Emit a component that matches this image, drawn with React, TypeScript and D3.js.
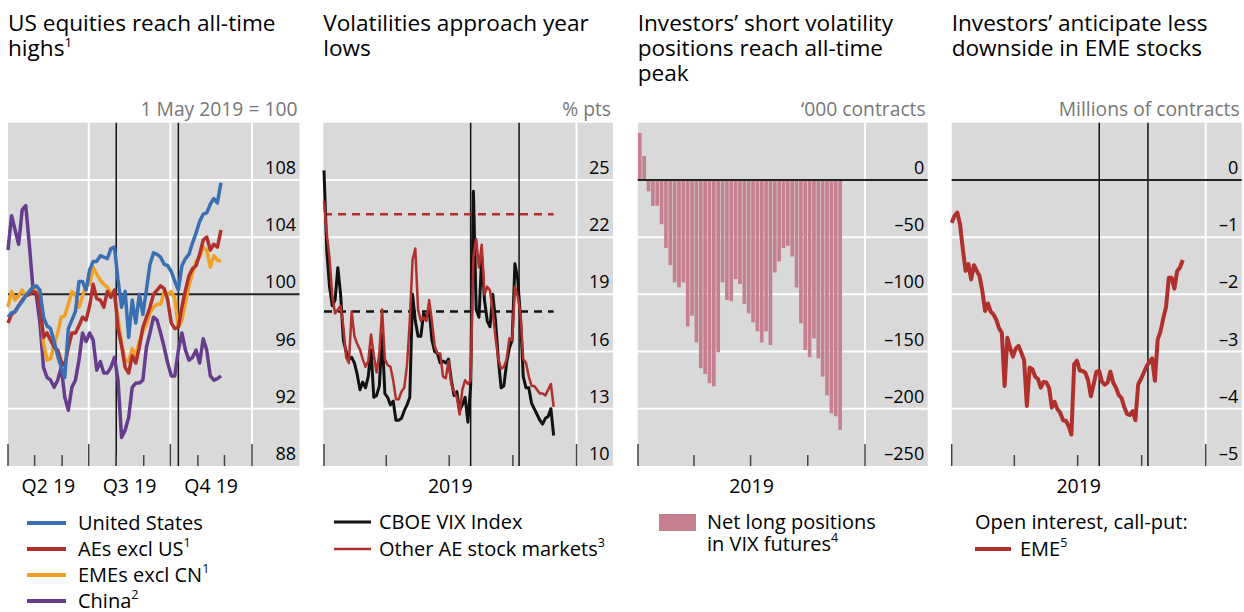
import React from "react";
import * as d3 from "d3";

const FONT = "'Open Sans', 'Noto Sans', sans-serif";
const TOP = 122.7;
const BOTTOM = 466;
const BG = "#d9d9d9";

// ---------- shared ----------
const eventDates = ["2019-08-01", "2019-10-10"];
const quarterLabels = ["Q2 19", "Q3 19", "Q4 19"];
const yearLabels = ["2019"];

// ---------- panel 1: equities (every 4 days from 1 Apr 2019) ----------
const eqStart = "2019-04-01";
const eqStepDays = 4;
const eqUS = [
  98.4, 98.7, 98.8, 99.2, 99.5, 99.9, 100.2, 100.5, 100.6, 100.3,
  98.4, 97.8, 97.6, 96.7, 95.7, 94.9, 94.2, 97.6, 98.2, 98.8,
  100.9, 100.9, 100.3, 101.7, 102.3, 102.3, 102.7, 102.6, 102.5, 103.2,
  103.3, 101.0, 99.1, 100.2, 97.0, 99.6, 98.0, 100.0, 98.6, 100.3,
  102.1, 102.9, 102.8, 102.6, 102.1, 102.0, 101.6, 100.9, 100.3, 102.0,
  102.5, 102.8, 103.6, 104.3, 105.1, 105.6, 105.7, 106.3, 106.7, 106.4,
  107.8,
];
const eqAE = [
  98.0, 98.6, 98.8, 99.2, 99.6, 99.9, 100.0, 100.2, 100.1, 99.2,
  97.0, 97.3, 96.8, 96.3, 96.1, 95.3, 95.0, 96.3, 97.3, 97.3,
  97.8, 98.4, 98.2, 99.2, 100.7, 99.7, 99.6, 99.1, 100.2, 99.8,
  100.3, 97.6, 96.4, 94.9, 94.5, 95.7, 95.2, 96.3, 97.7, 98.4,
  99.1, 100.0, 100.3, 100.6, 100.4, 99.6, 98.0, 97.6, 97.7, 99.1,
  100.3, 101.3, 101.8, 102.0, 102.8, 103.8, 104.0, 103.1, 103.5, 103.3,
  104.5,
];
const eqEM = [
  99.1, 100.2, 99.6, 99.9, 100.3, 99.9, 100.2, 100.3, 100.2, 99.6,
  96.6, 95.4, 95.5, 96.5, 97.3, 98.4, 98.5, 99.3, 100.2, 100.0,
  99.1, 99.9, 100.6, 100.7, 101.9, 101.4, 101.0, 100.7, 100.5, 100.1,
  99.9, 98.3, 96.6, 95.4, 95.3, 96.2, 95.7, 96.7, 97.4, 97.9,
  98.7, 99.1, 99.3, 99.3, 100.2, 100.0, 100.2, 99.7, 97.7, 98.2,
  99.4, 100.6, 101.5, 102.3, 102.6, 103.3, 103.1, 101.9, 102.7, 102.4,
  102.3,
];
const eqCN = [
  103.1, 105.5, 104.5, 103.5, 105.9, 106.2, 103.5, 100.5, 99.9, 98.0,
  94.9, 94.2, 94.0, 93.5, 94.0, 94.9, 92.8, 91.9, 93.5, 94.0,
  95.4, 97.3, 96.7, 97.3, 96.8, 94.7, 95.3, 94.5, 94.5, 94.9,
  95.6, 94.0, 90.0, 90.5, 91.4, 93.5, 93.8, 93.8, 94.0, 96.3,
  97.3, 98.4, 98.2, 97.3, 96.3, 95.2, 94.3, 94.3, 96.1, 97.3,
  96.1, 95.4, 95.6, 96.1, 95.2, 96.9, 96.1, 94.3, 94.0, 94.1,
  94.3,
];
const eqTicks = [88, 92, 96, 100, 104, 108, 112];

// ---------- panel 2: volatilities (every 4 days from 1 Jan 2019) ----------
const volStart = "2019-01-01";
const volStepDays = 4;
const vix = [
  25.5, 21.3, 19.4, 18.4, 18.7, 20.4, 19.0, 16.6, 16.0, 15.6,
  15.7, 15.4, 14.8, 14.0, 14.4, 14.1, 14.7, 16.1, 13.6, 13.7,
  14.2, 16.9, 13.8, 13.6, 13.2, 13.4, 12.4, 12.4, 12.5, 12.9,
  13.2, 13.6, 19.0, 17.6, 16.8, 16.8, 18.0, 17.8, 18.2, 16.6,
  16.0, 15.9, 15.4, 15.5, 15.4, 15.6, 14.5, 13.7, 13.9, 12.9,
  13.2, 13.6, 12.3, 14.2, 24.4, 18.2, 17.8, 21.0, 18.7, 17.6,
  17.3, 19.0, 17.6, 15.6, 14.1, 14.2, 15.4, 16.2, 16.6, 20.6,
  19.8, 17.8, 14.7, 14.1, 14.1, 13.3, 13.0, 12.7, 12.4, 12.2,
  12.5, 12.6, 13.0, 11.6,
];
const otherAE = [
  23.9, 22.2, 20.9, 18.9, 18.0, 18.2, 18.4, 17.3, 15.7, 15.4,
  18.1, 16.8, 16.4, 16.1, 15.6, 15.2, 15.5, 16.9, 15.8, 14.9,
  15.9, 18.2, 15.6, 15.3, 15.2, 14.5, 13.5, 13.5, 13.9, 14.1,
  15.3, 17.6, 20.8, 21.4, 18.2, 17.6, 17.8, 17.6, 18.7, 17.6,
  16.3, 15.9, 15.9, 14.7, 14.6, 15.5, 14.3, 13.9, 13.6, 12.7,
  14.0, 14.5, 14.3, 14.5, 21.0, 21.9, 20.4, 21.6, 19.0, 19.4,
  19.2, 18.1, 16.7, 15.6, 15.1, 15.2, 15.6, 16.7, 16.6, 19.4,
  18.9, 18.0, 15.6, 15.4, 14.7, 14.2, 14.2, 14.0, 13.8, 13.8,
  13.7, 14.0, 14.3, 13.1,
];
const vixAverage = 18.1;
const otherAEAverage = 23.2;
const volTicks = [10, 13, 16, 19, 22, 25, 28];

// ---------- panel 3: VIX futures net long (weekly from 1 Jan 2019) ----------
const futStart = "2019-01-01";
const futStepDays = 7;
const netLong = [
  41, 21, -10, -22.7, -22.7, -38.7, -59.6, -74.5, -89.6, -94,
  -89.6, -128, -118.7, -142, -164.6, -169.6, -177.7, -180.4, -150.7, -89.6,
  -105, -106, -86.7, -91, -108.5, -116.6, -124.5, -132.3, -142, -132.3,
  -144.3, -80.9, -71.3, -59.6, -57.6, -66.9, -94, -125.4, -148.6, -155,
  -138.5, -155.9, -171.9, -188.2, -203.9, -206.5, -218.4,
];
const futTicks = [-250, -200, -150, -100, -50, 0, 50];

// ---------- panel 4: EME open interest call-put (every 4 days from 1 Jan 2019) ----------
const emeStart = "2019-01-01";
const emeStepDays = 4;
const emeCallPut = [
  -0.75, -0.63, -0.57, -0.78, -1.21, -1.59, -1.47, -1.74, -1.49, -1.59,
  -1.68, -1.94, -2.29, -2.16, -2.30, -2.35, -2.44, -2.59, -2.67, -3.6,
  -2.76, -2.94, -3.09, -2.95, -2.90, -3.02, -3.15, -3.95, -3.28, -3.31,
  -3.44, -3.48, -3.63, -3.53, -3.54, -3.64, -3.98, -3.88, -4.01, -4.07,
  -4.20, -4.21, -4.30, -4.45, -3.22, -3.16, -3.33, -3.34, -3.37, -3.50,
  -3.78, -3.57, -3.35, -3.34, -3.53, -3.58, -3.54, -3.35, -3.54, -3.63,
  -3.76, -3.81, -3.97, -4.09, -4.11, -4.04, -4.2, -3.57, -3.48, -3.37,
  -3.26, -3.18, -3.12, -3.51, -2.79, -2.65, -2.42, -2.22, -1.71, -1.71,
  -1.9, -1.59, -1.53, -1.40,
];
const emeTicks = [-5, -4, -3, -2, -1, 0, 1];

// ---------- helpers ----------
const parse = d3.utcParse("%Y-%m-%d");
const dates = (start: string, step: number, n: number) =>
  d3.range(n).map((i) => d3.utcDay.offset(parse(start) as Date, i * step));
const fmtNum = (v: number) => (v < 0 ? "\u2013" + Math.abs(v) : String(v));

const C = {
  blue: "#3b6fb3",
  red: "#b0302d",
  orange: "#f0a024",
  purple: "#663d8d",
  bar: "#c5808f",
  black: "#111111",
};

type FrameProps = {
  gx0: number;
  gx1: number;
  x: d3.ScaleTime<number, number>;
  y: d3.ScaleLinear<number, number>;
  yTicks: number[];
  majors: Date[];
  minors: Date[];
  unit: string;
  title: string[];
  sup?: string;
  xLabels: string[];
  refLine?: number;
  events?: Date[];
  refOnTop?: boolean;
  children?: React.ReactNode;
};

function Frame(p: FrameProps) {
  const { gx0, gx1, x, y, yTicks, majors, minors } = p;
  const refEl =
    p.refLine != null ? (
      <line x1={gx0} x2={gx1} y1={y(p.refLine)} y2={y(p.refLine)} stroke="#222" strokeWidth={2} />
    ) : null;
  return (
    <g>
      {p.title.map((t, i) => (
        <text key={i} x={gx0} y={31 + i * 25} fontSize={22.6} fill="#000">
          {t}
          {i === p.title.length - 1 && p.sup ? (
            <tspan dy={-9} fontSize={13.5}>
              {p.sup}
            </tspan>
          ) : null}
        </text>
      ))}
      <text x={gx1 - 2} y={116} fontSize={19.3} fill="#777" textAnchor="end">
        {p.unit}
      </text>
      <rect x={gx0} y={TOP} width={gx1 - gx0} height={BOTTOM - TOP} fill={BG} />
      {yTicks
        .filter((v) => v !== p.refLine && y(v) > TOP + 1 && y(v) < BOTTOM - 1)
        .map((v) => (
          <line key={v} x1={gx0} x2={gx1} y1={y(v)} y2={y(v)} stroke="#fff" strokeWidth={2} />
        ))}
      {majors.slice(1).map((d, i) => (
        <line key={i} x1={x(d)} x2={x(d)} y1={TOP} y2={BOTTOM} stroke="#fff" strokeWidth={2} />
      ))}
      {(p.events || []).map((d, i) => (
        <line key={i} x1={x(d)} x2={x(d)} y1={TOP} y2={BOTTOM} stroke={C.black} strokeWidth={1.5} />
      ))}
      {!p.refOnTop && refEl}
      {p.children}
      {p.refOnTop && refEl}
      {majors.map((d, i) => (
        <line key={"M" + i} x1={x(d)} x2={x(d)} y1={BOTTOM - 22} y2={BOTTOM} stroke="#444" strokeWidth={1.5} />
      ))}
      {minors.map((d, i) => (
        <line key={"m" + i} x1={x(d)} x2={x(d)} y1={BOTTOM - 11} y2={BOTTOM} stroke="#444" strokeWidth={1.5} />
      ))}
      {yTicks
        .filter((v) => y(v) > TOP + 10)
        .map((v) => (
          <text key={v} x={gx1 - 3.5} y={y(v) - 6} fontSize={18} textAnchor="end" fill="#000">
            {fmtNum(v)}
          </text>
        ))}
      {p.xLabels.map((t, i) => {
        const cx = (x(majors[i]) + x(majors[i + 1])) / 2;
        return (
          <text key={t} x={cx} y={493} fontSize={19.5} textAnchor="middle" fill="#000">
            {t}
          </text>
        );
      })}
    </g>
  );
}

export default function App() {
  const events = eventDates.map((d) => parse(d) as Date);

  // panel 1
  const eqDates = dates(eqStart, eqStepDays, eqUS.length);
  const x1 = d3.scaleUtc().domain([parse("2019-04-01") as Date, parse("2020-01-01") as Date]).range([8, 252]);
  const y1 = d3.scaleLinear().domain([88, 112]).range([BOTTOM, TOP]);
  const eqMajors = d3.utcMonth.every(3)!.range(parse("2019-04-01") as Date, parse("2020-01-02") as Date);
  const eqMinors = d3.utcMonth
    .range(parse("2019-04-01") as Date, parse("2020-01-01") as Date)
    .filter((d) => d.getUTCMonth() % 3 !== 0);
  const line1 = (vals: number[]) =>
    d3.line<number>().x((_, i) => x1(eqDates[i])).y((v) => y1(v))(vals) as string;

  // panel 2
  const volDates = dates(volStart, volStepDays, vix.length);
  const yearMajors = [parse("2019-01-01") as Date, parse("2020-01-01") as Date];
  const yearMinors = ["2019-04-01", "2019-07-01", "2019-10-01"].map((d) => parse(d) as Date);
  const x2 = d3.scaleUtc().domain(yearMajors).range([324, 576.5]);
  const y2 = d3.scaleLinear().domain([10, 28]).range([BOTTOM, TOP]);
  const line2 = (vals: number[]) =>
    d3.line<number>().x((_, i) => x2(volDates[i])).y((v) => y2(v))(vals) as string;

  // panel 3
  const futDates = dates(futStart, futStepDays, netLong.length);
  const x3 = d3.scaleUtc().domain(yearMajors).range([638, 865]);
  const y3 = d3.scaleLinear().domain([-250, 50]).range([BOTTOM, TOP]);

  // panel 4
  const emeDates = dates(emeStart, emeStepDays, emeCallPut.length);
  const x4 = d3.scaleUtc().domain(yearMajors).range([951.7, 1205.7]);
  const y4 = d3.scaleLinear().domain([-5, 1]).range([BOTTOM, TOP]);
  const line4 = d3.line<number>().x((_, i) => x4(emeDates[i])).y((v) => y4(v))(emeCallPut) as string;

  const legend1 = [
    { label: "United States", sup: "", color: C.blue },
    { label: "AEs excl US", sup: "1", color: C.red },
    { label: "EMEs excl CN", sup: "1", color: C.orange },
    { label: "China", sup: "2", color: C.purple },
  ];

  return (
    <svg
      width={1244}
      height={612}
      style={{ position: "absolute", left: 0, top: 0, background: "#fff" }}
      fontFamily={FONT}
    >
      {/* Panel 1 */}
      <Frame
        gx0={8}
        gx1={299.5}
        x={x1}
        y={y1}
        yTicks={eqTicks}
        majors={eqMajors}
        minors={eqMinors}
        unit="1 May 2019 = 100"
        title={["US equities reach all-time", "highs"]}
        sup="1"
        xLabels={quarterLabels}
        refLine={100}
        events={events}
      >
        <path d={line1(eqCN)} fill="none" stroke={C.purple} strokeWidth={3.5} strokeLinejoin="round" />
        <path d={line1(eqEM)} fill="none" stroke={C.orange} strokeWidth={3.5} strokeLinejoin="round" />
        <path d={line1(eqAE)} fill="none" stroke={C.red} strokeWidth={3.5} strokeLinejoin="round" />
        <path d={line1(eqUS)} fill="none" stroke={C.blue} strokeWidth={3.5} strokeLinejoin="round" />
      </Frame>

      {/* Panel 2 */}
      <Frame
        gx0={323.3}
        gx1={613}
        x={x2}
        y={y2}
        yTicks={volTicks}
        majors={yearMajors}
        minors={yearMinors}
        unit="% pts"
        title={["Volatilities approach year", "lows"]}
        xLabels={yearLabels}
        events={events}
      >
        <line
          x1={x2(volDates[0])}
          x2={x2(volDates[volDates.length - 1])}
          y1={y2(otherAEAverage)}
          y2={y2(otherAEAverage)}
          stroke={C.red}
          strokeWidth={2.5}
          strokeDasharray="8,6"
        />
        <line
          x1={x2(volDates[0])}
          x2={x2(volDates[volDates.length - 1])}
          y1={y2(vixAverage)}
          y2={y2(vixAverage)}
          stroke={C.black}
          strokeWidth={2.5}
          strokeDasharray="8,6"
        />
        <path d={line2(vix)} fill="none" stroke={C.black} strokeWidth={3} strokeLinejoin="round" />
        <path d={line2(otherAE)} fill="none" stroke={C.red} strokeWidth={2.5} strokeLinejoin="round" />
      </Frame>

      {/* Panel 3 */}
      <Frame
        gx0={637.7}
        gx1={927.7}
        x={x3}
        y={y3}
        yTicks={futTicks}
        majors={yearMajors}
        minors={yearMinors}
        unit={"\u2018000 contracts"}
        title={["Investors\u2019 short volatility", "positions reach all-time", "peak"]}
        xLabels={yearLabels}
        refLine={0}
        refOnTop
      >
        {netLong.map((v, i) => {
          const xa = x3(futDates[i]);
          const xb = x3(d3.utcDay.offset(futDates[i], futStepDays));
          return (
            <rect
              key={i}
              x={xa}
              width={Math.max(0, xb - xa - 0.7)}
              y={Math.min(y3(v), y3(0))}
              height={Math.abs(y3(v) - y3(0))}
              fill={C.bar}
            />
          );
        })}
      </Frame>

      {/* Panel 4 */}
      <Frame
        gx0={951.7}
        gx1={1241.7}
        x={x4}
        y={y4}
        yTicks={emeTicks}
        majors={yearMajors}
        minors={yearMinors}
        unit="Millions of contracts"
        title={["Investors\u2019 anticipate less", "downside in EME stocks"]}
        xLabels={yearLabels}
        refLine={0}
        events={events}
      >
        <path d={line4} fill="none" stroke={C.red} strokeWidth={4} strokeLinejoin="round" />
      </Frame>

      {/* Legends */}
      <g fontSize={20}>
        {legend1.map((l, i) => (
          <g key={l.label}>
            <line x1={27} x2={66} y1={523 + i * 26} y2={523 + i * 26} stroke={l.color} strokeWidth={4} />
            <text x={78} y={523 + i * 26 + 7}>
              {l.label}
              {l.sup ? (
                <tspan dy={-9} fontSize={12.5}>
                  {l.sup}
                </tspan>
              ) : null}
            </text>
          </g>
        ))}

        <line x1={334} x2={371} y1={522} y2={522} stroke={C.black} strokeWidth={3} />
        <text x={379} y={529}>CBOE VIX Index</text>
        <line x1={334} x2={371} y1={549} y2={549} stroke={C.red} strokeWidth={2.5} />
        <text x={379} y={556}>
          Other AE stock markets
          <tspan dy={-9} fontSize={12.5}>
            3
          </tspan>
        </text>

        <rect x={659} y={514} width={37} height={17} fill={C.bar} />
        <text x={707} y={529}>Net long positions</text>
        <text x={707} y={551}>
          in VIX futures
          <tspan dy={-9} fontSize={12.5}>
            4
          </tspan>
        </text>

        <text x={975} y={529}>Open interest, call-put:</text>
        <line x1={975} x2={1011} y1={549} y2={549} stroke={C.red} strokeWidth={4} />
        <text x={1020} y={556}>
          EME
          <tspan dy={-9} fontSize={12.5}>
            5
          </tspan>
        </text>
      </g>
    </svg>
  );
}
